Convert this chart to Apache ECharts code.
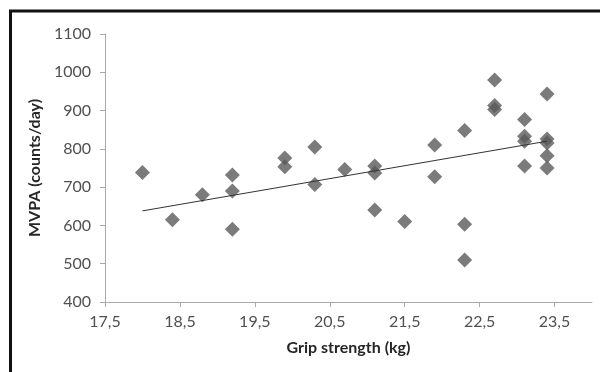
<!DOCTYPE html>
<html>
<head>
<meta charset="utf-8">
<script src="https://cdn.jsdelivr.net/npm/echarts@6/dist/echarts.min.js"></script>
<style>
html,body{margin:0;padding:0;background:#fff;}
#chart{width:600px;height:372px;}
</style>
</head>
<body>
<div id="chart"></div>
<script>
const gripStrength = [18.0, 18.4, 18.8, 19.2, 19.2, 19.2, 19.9, 19.9, 20.3, 20.3, 20.7, 21.1, 21.1, 21.1, 21.5, 21.9, 21.9, 22.3, 22.3, 22.3, 22.7, 22.7, 22.7, 23.1, 23.1, 23.1, 23.1, 23.4, 23.4, 23.4, 23.4, 23.4];
const mvpa = [738, 615, 680, 732, 690, 590, 776, 753, 805, 707, 746, 755, 737, 640, 610, 810, 727, 848, 603, 510, 980, 913, 903, 877, 833, 820, 755, 943, 826, 815, 782, 750];
const trendX = [18.0, 23.4];
const trendY = [638, 820];
const xTickValues = [17.5, 18.5, 19.5, 20.5, 21.5, 22.5, 23.5];
const xTickLabels = ['17,5', '18,5', '19,5', '20,5', '21,5', '22,5', '23,5'];
const xTitle = 'Grip strength (kg)';
const yTitle = 'MVPA (counts/day)';

const chart = echarts.init(document.getElementById('chart'), null, {renderer: 'canvas'});
const font = 'Lato, "Open Sans", sans-serif';
chart.setOption({
  animation: false,
  backgroundColor: '#fff',
  grid: {left: 105, top: 34, right: 8, bottom: 70, containLabel: false},
  graphic: [{
    type: 'rect',
    shape: {x: 10.5, y: 11, width: 800, height: 600},
    style: {fill: 'none', stroke: '#111', lineWidth: 3},
    silent: true, z: 100
  }],
  xAxis: {
    type: 'value', min: 17.5, max: 24,
    name: xTitle, nameLocation: 'middle', nameGap: 38,
    nameTextStyle: {fontFamily: font, fontWeight: 'bold', fontSize: 16, color: '#262626'},
    axisLine: {lineStyle: {color: '#aaaaaa', width: 1}},
    axisTick: {show: true, length: 5, lineStyle: {color: '#aaaaaa'}, customValues: xTickValues},
    axisLabel: {
      customValues: xTickValues,
      fontFamily: font, fontSize: 16, color: '#505050', margin: 12,
      formatter: v => { const i = xTickValues.findIndex(t => Math.abs(t - v) < 1e-6); return i >= 0 ? xTickLabels[i] : ''; }
    },
    splitLine: {show: false}
  },
  yAxis: {
    type: 'value', min: 400, max: 1100, interval: 100,
    name: yTitle, nameLocation: 'middle', nameGap: 52, nameRotate: 90,
    nameTextStyle: {fontFamily: font, fontWeight: 'bold', fontSize: 16, color: '#262626'},
    axisLine: {show: true, lineStyle: {color: '#aaaaaa', width: 1}},
    axisTick: {show: true, length: 5, lineStyle: {color: '#aaaaaa'}},
    axisLabel: {fontFamily: font, fontSize: 16, color: '#505050', margin: 14, formatter: v => String(v)},
    splitLine: {show: false}
  },
  series: [{
    type: 'scatter',
    symbol: 'diamond',
    symbolSize: [15, 15],
    itemStyle: {color: '#5a5a5a'},
    data: gripStrength.map((x, i) => [x, mvpa[i]]),
    z: 2
  }, {
    type: 'line',
    data: trendX.map((x, i) => [x, trendY[i]]),
    showSymbol: false, symbol: 'none',
    lineStyle: {color: '#333', width: 1},
    z: 3
  }]
});
</script>
</body>
</html>
